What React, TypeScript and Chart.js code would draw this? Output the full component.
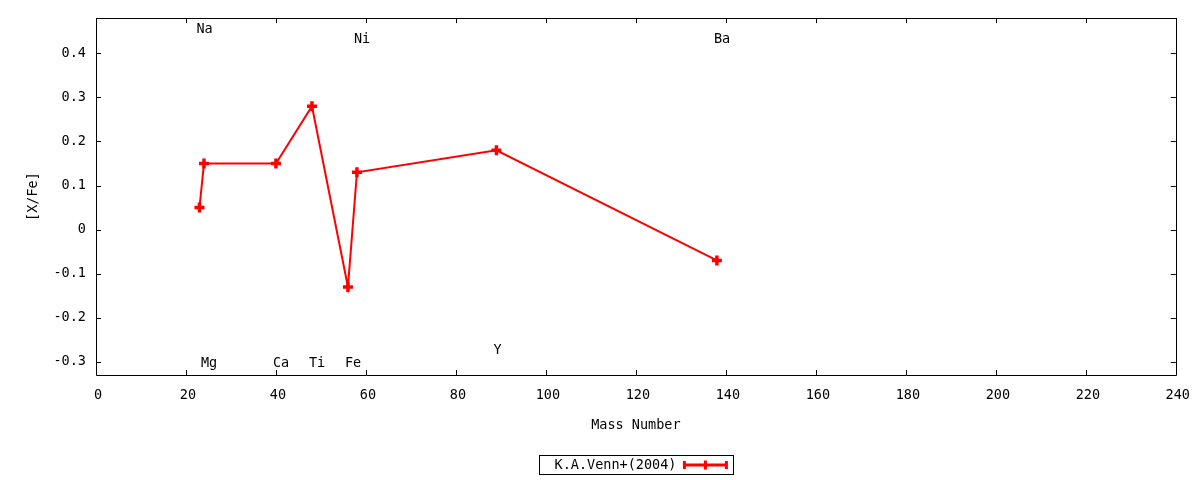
import React, { useEffect, useRef } from "react";
import { Chart, registerables } from "chart.js";

Chart.register(...registerables);

const massNumbers = [23, 24, 40, 48, 56, 58, 89, 138];
const xFeValues = [0.05, 0.15, 0.15, 0.28, -0.13, 0.13, 0.18, -0.07];
const seriesLabel = "K.A.Venn+(2004)";

const elementNames = ["Na", "Mg", "Ca", "Ti", "Fe", "Ni", "Y", "Ba"];
const elementLabelX = [23, 24, 40, 48, 56, 58, 89, 138];
const elementLabelY = [0.455, -0.305, -0.305, -0.305, -0.305, 0.432, -0.274, 0.432];

const xTicks = [0, 20, 40, 60, 80, 100, 120, 140, 160, 180, 200, 220, 240];
const yTicks = [-0.3, -0.2, -0.1, 0, 0.1, 0.2, 0.3, 0.4];

const FONT = "'DejaVu Sans Mono', monospace";
const FS = 13.5;

const framePlugin = {
  id: "gnuplotFrame",
  afterDraw(chart: any) {
    const ctx = chart.ctx;
    const { left, right, top, bottom } = chart.chartArea;
    const xs = chart.scales.x;
    const ys = chart.scales.y;
    ctx.save();
    ctx.strokeStyle = "#000";
    ctx.lineWidth = 1;
    ctx.beginPath();
    ctx.rect(Math.round(left) + 0.5, Math.round(top) + 0.5, Math.round(right - left), Math.round(bottom - top));
    ctx.stroke();
    const tl = 5;
    ctx.beginPath();
    xTicks.forEach((v) => {
      const px = Math.round(xs.getPixelForValue(v)) + 0.5;
      ctx.moveTo(px, bottom);
      ctx.lineTo(px, bottom - tl);
      ctx.moveTo(px, top);
      ctx.lineTo(px, top + tl);
    });
    yTicks.forEach((v) => {
      const py = Math.round(ys.getPixelForValue(v)) + 0.5;
      ctx.moveTo(left, py);
      ctx.lineTo(left + tl, py);
      ctx.moveTo(right, py);
      ctx.lineTo(right - tl, py);
    });
    ctx.stroke();

    // element labels
    ctx.fillStyle = "#000";
    ctx.font = `${FS}px ${FONT}`;
    ctx.textAlign = "left";
    ctx.textBaseline = "middle";
    elementNames.forEach((name, i) => {
      ctx.fillText(name, xs.getPixelForValue(elementLabelX[i]) - 3, ys.getPixelForValue(elementLabelY[i]));
    });

    // legend
    const ds = chart.data.datasets[0];
    const cx = (left + right) / 2;
    const textW = ctx.measureText(ds.label).width;
    const sampleW = 42;
    const gap = 8;
    const padX = 15;
    const boxW = padX + textW + gap + sampleW + 7;
    const boxH = 19;
    const bx = Math.round(cx - boxW / 2) + 0.5;
    const by = 455.5;
    ctx.strokeStyle = "#000";
    ctx.lineWidth = 1;
    ctx.strokeRect(bx, by, Math.round(boxW), boxH);
    const ty = by + boxH / 2;
    ctx.fillText(ds.label, bx + padX, ty + 0.5);
    const sx0 = bx + padX + textW + gap;
    const sx1 = sx0 + sampleW;
    ctx.strokeStyle = ds.borderColor;
    ctx.lineWidth = 3;
    ctx.beginPath();
    ctx.moveTo(sx0, ty);
    ctx.lineTo(sx1, ty);
    ctx.moveTo(sx0, ty - 4);
    ctx.lineTo(sx0, ty + 4);
    ctx.moveTo(sx1, ty - 4);
    ctx.lineTo(sx1, ty + 4);
    const mx = (sx0 + sx1) / 2;
    ctx.moveTo(mx, ty - 4.5);
    ctx.lineTo(mx, ty + 4.5);
    ctx.stroke();
    ctx.restore();
  },
};

export default function App() {
  const ref = useRef<HTMLCanvasElement | null>(null);
  useEffect(() => {
    if (!ref.current) return;
    const chart = new Chart(ref.current, {
      type: "line",
      data: {
        datasets: [
          {
            label: seriesLabel,
            data: massNumbers.map((m, i) => ({ x: m, y: xFeValues[i] })),
            borderColor: "#ff0000",
            backgroundColor: "#ff0000",
            borderWidth: 2,
            pointStyle: "cross",
            pointRadius: 5,
            pointBorderWidth: 3.5,
            pointHoverRadius: 5,
            tension: 0,
            fill: false,
          },
        ],
      },
      options: {
        animation: false,
        responsive: false,
        devicePixelRatio: 1,
        layout: { padding: { left: 0, right: 23, top: 17, bottom: 45 } },
        plugins: { legend: { display: false }, tooltip: { enabled: false } },
        scales: {
          x: {
            type: "linear",
            min: 0,
            max: 240,
            grid: { display: false, drawTicks: false },
            border: { display: false },
            afterBuildTicks: (s: any) => {
              s.ticks = xTicks.map((v) => ({ value: v }));
            },
            afterFit: (s: any) => {
              s.height = 60;
            },
            ticks: {
              padding: 12,
              labelOffset: 2,
              maxRotation: 0,
              color: "#000",
              font: { family: FONT, size: FS },
              callback: (v: any) => String(v),
            },
            title: {
              display: true,
              text: "Mass Number",
              color: "#000",
              font: { family: FONT, size: FS },
              padding: { top: 0, bottom: 1 },
            },
          },
          y: {
            type: "linear",
            min: -0.33,
            max: 0.48,
            grid: { display: false, drawTicks: false },
            border: { display: false },
            afterBuildTicks: (s: any) => {
              s.ticks = yTicks.map((v) => ({ value: v }));
            },
            afterFit: (s: any) => {
              s.width = 96;
            },
            ticks: {
              padding: 10,
              color: "#000",
              font: { family: FONT, size: FS },
              callback: (v: any) => String(Number(Number(v).toFixed(1))),
            },
            title: {
              display: true,
              text: "[X/Fe]",
              color: "#000",
              font: { family: FONT, size: FS },
              padding: { top: 25, bottom: 0 },
            },
          },
        },
      },
      plugins: [framePlugin],
    });
    return () => chart.destroy();
  }, []);
  return (
    <div style={{ position: "absolute", left: 0, top: 0, width: 1200, height: 480, background: "#fff" }}>
      <canvas ref={ref} width={1200} height={480} style={{ display: "block" }} />
    </div>
  );
}
